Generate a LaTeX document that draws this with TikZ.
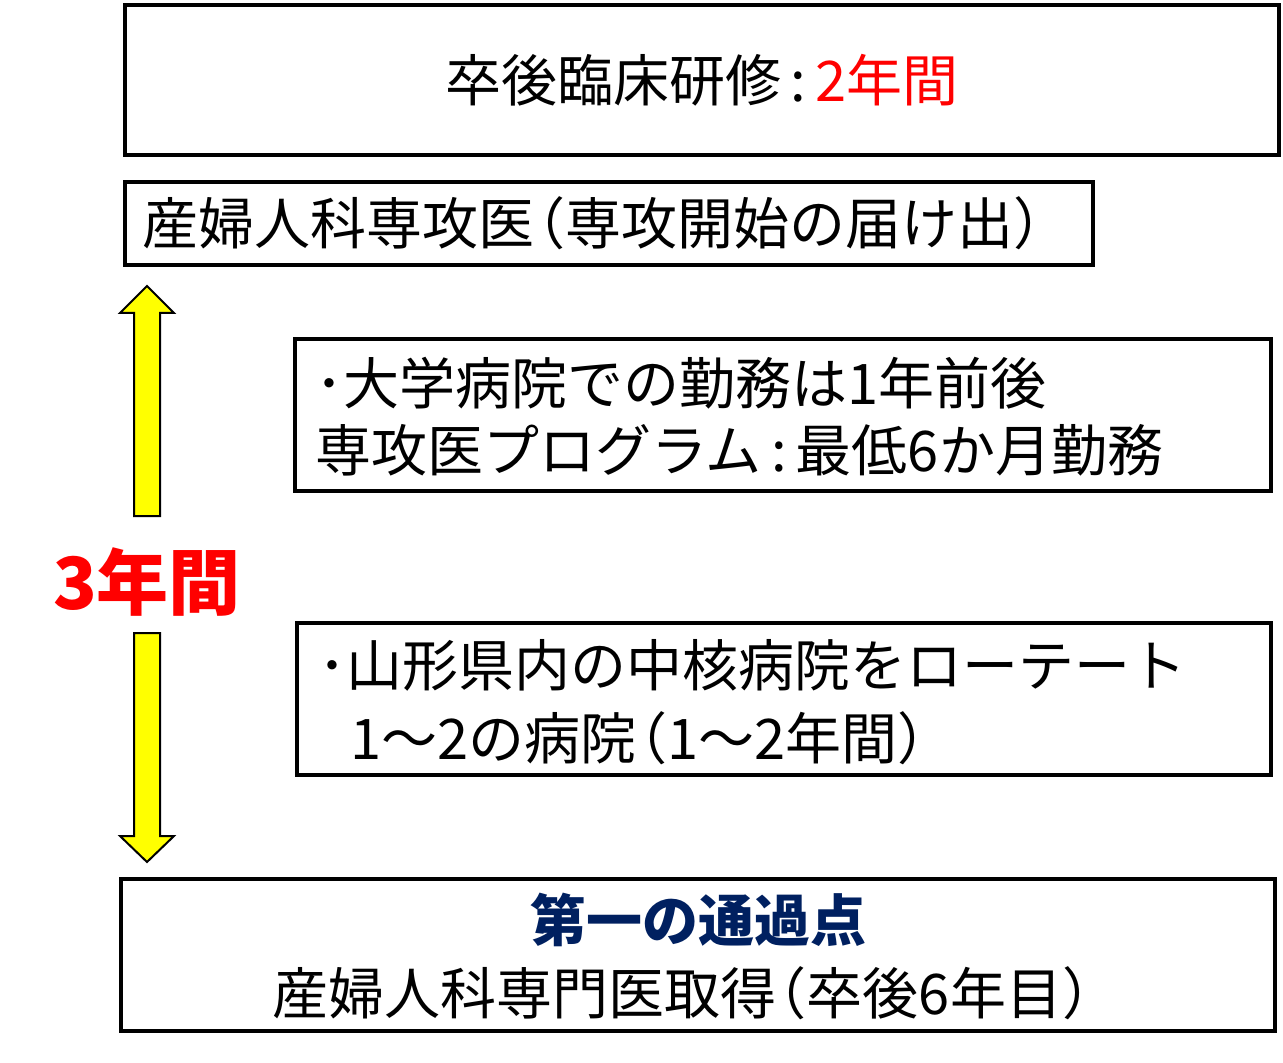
\documentclass[tikz,border=0pt]{standalone}
\usepackage{fontspec}
\setmainfont{Noto Sans CJK JP}
\usepackage{tikz}
\usetikzlibrary{positioning}
\definecolor{navy}{HTML}{002060}
\definecolor{arrowyellow}{HTML}{FFFF00}
\newcommand{\lparen}{\hspace{-0.45em}（}
\tikzset{
  every picture/.style={line join=miter},
  box/.style={draw,line width=2pt,inner sep=0pt},
  txt/.style={font=\fontsize{28}{32}\selectfont,inner sep=0pt},
  bigtxt/.style={font=\fontsize{36}{40}\selectfont\bfseries,inner sep=0pt,text=red},
  yarrow/.style={draw,line width=1pt,fill=arrowyellow},
}
\begin{document}
\begin{tikzpicture}[x=0.5pt,y=-0.5pt]
\useasboundingbox (0,0) rectangle (1283,1063);
\node[box,minimum width=577pt,minimum height=75pt] (train) at (702,80) {};
\node[txt] (traintxt) at (train) {卒後臨床研修\,:\,\textcolor{red}{2年間}};
\node[box,minimum width=484pt,minimum height=41.5pt] (senkoi) at (609,223.5) {};
\node[txt] (senkoitxt) at (606,223.5) {産婦人科専攻医\lparen 専攻開始の届け出）};
\node[box,minimum width=488pt,minimum height=76pt] (univ) at (783,415) {};
\node[txt,anchor=west] (univa) at (315,383) {･大学病院での勤務は1年前後};
\node[txt,anchor=west] (univb) at (315,450) {専攻医プログラム\,:\,最低6か月勤務};
\node[box,minimum width=487pt,minimum height=76pt] (rotate) at (784,699) {};
\node[txt,anchor=west] (rotatea) at (318,665) {･山形県内の中核病院をローテート};
\node[txt,anchor=west] (rotateb) at (350,738) {1～2の病院\lparen 1～2年間）};
\node[box,minimum width=577pt,minimum height=76pt] (goal) at (698,955) {};
\node[txt,font=\fontsize{28}{32}\selectfont\bfseries,text=navy] (goala) at (698,920) {第一の通過点};
\node[txt] (goalb) at (695,993) {産婦人科専門医取得\lparen 卒後6年目）};
\node[bigtxt] (years) at (147,582) {3年間};
\draw[yarrow] (134,516)--(134,313)--(120,313)--(147,286)--(174,313)--(160,313)--(160,516)--cycle;
\draw[yarrow] (134,633)--(134,836)--(120,836)--(147,862)--(174,836)--(160,836)--(160,633)--cycle;
\end{tikzpicture}
\end{document}
